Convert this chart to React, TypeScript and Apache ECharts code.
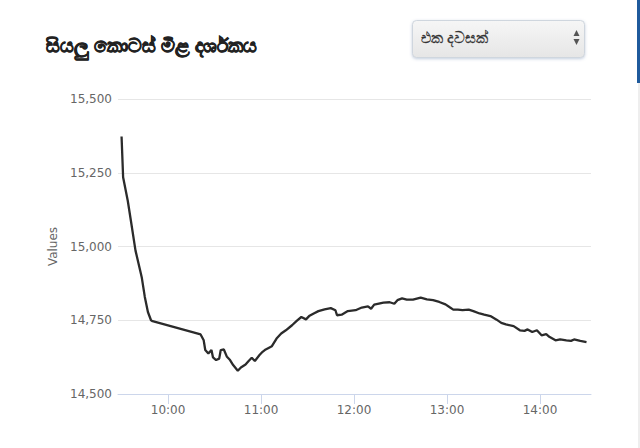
import React, { useEffect, useRef } from "react";
import * as echarts from "echarts";

const titleText = "සියලු කොටස් මිළ දර්ශකය";
const dropdownText = "එක දවසක්";
const yAxisName = "Values";
const hourTicks = ["10:00", "11:00", "12:00", "13:00", "14:00"];
const yTicks = [14500, 14750, 15000, 15250, 15500];

const times = [
  "09:30", "09:31", "09:34", "09:36", "09:39", "09:42", "09:43", "09:45", "09:47", "09:49",
  "09:50", "10:21", "10:23", "10:24", "10:26", "10:28", "10:29", "10:31", "10:33", "10:34",
  "10:36", "10:38", "10:40", "10:42", "10:45", "10:47", "10:50", "10:52", "10:54", "10:56",
  "10:59", "11:01", "11:03", "11:07", "11:10", "11:13", "11:16", "11:20", "11:23", "11:26",
  "11:29", "11:31", "11:34", "11:37", "11:41", "11:45", "11:48", "11:49", "11:52", "11:56",
  "12:01", "12:05", "12:09", "12:11", "12:13", "12:19", "12:23", "12:26", "12:28", "12:31",
  "12:34", "12:38", "12:43", "12:47", "12:51", "12:55", "12:59", "13:02", "13:04", "13:07",
  "13:10", "13:14", "13:17", "13:21", "13:24", "13:28", "13:32", "13:35", "13:38", "13:43",
  "13:47", "13:50", "13:52", "13:55", "13:58", "14:01", "14:04", "14:06", "14:10", "14:13",
  "14:17", "14:20", "14:22", "14:26", "14:30",
];
const values = [
  15373, 15235, 15155, 15088, 14986, 14919, 14896, 14829, 14778, 14750,
  14747, 14702, 14682, 14649, 14637, 14649, 14624, 14615, 14620, 14649,
  14651, 14626, 14615, 14598, 14579, 14590, 14600, 14612, 14623, 14612,
  14632, 14643, 14651, 14662, 14688, 14705, 14716, 14733, 14748, 14761,
  14753, 14764, 14773, 14781, 14787, 14791, 14784, 14767, 14769, 14781,
  14784, 14793, 14797, 14789, 14803, 14810, 14811, 14806, 14818, 14824,
  14820, 14820, 14827, 14821, 14818, 14812, 14804, 14793, 14786, 14786,
  14784, 14786, 14781, 14773, 14769, 14764, 14752, 14741, 14736, 14730,
  14716, 14714, 14719, 14710, 14716, 14699, 14703, 14694, 14682, 14685,
  14682, 14680, 14685, 14680, 14676,
];

const toMin = (s: string) => {
  const [h, m] = s.split(":").map(Number);
  return h * 60 + m;
};
const fmt = (v: number) => {
  const h = Math.floor(v / 60);
  const m = Math.round(v % 60);
  return `${h}:${m < 10 ? "0" + m : m}`;
};

export default function App() {
  const ref = useRef<HTMLDivElement>(null);
  useEffect(() => {
    if (!ref.current) return;
    const chart = echarts.init(ref.current, undefined, { renderer: "svg" });
    const tickVals = hourTicks.map(toMin);
    chart.setOption({
      animation: false,
      backgroundColor: "#ffffff",
      textStyle: { fontFamily: "DejaVu Sans" },
      grid: { left: 118, right: 49, top: 99, bottom: 54, containLabel: false },
      xAxis: {
        type: "value",
        min: toMin("09:27") + 0.7,
        max: toMin("14:32") + 0.9,
        axisLine: { show: true, lineStyle: { color: "#ccd6eb", width: 1 } },
        axisTick: {
          show: true,
          length: 10,
          lineStyle: { color: "#ccd6eb" },
          customValues: tickVals,
        },
        axisLabel: {
          color: "#666666",
          fontSize: 12,
          margin: 10,
          customValues: tickVals,
          formatter: (v: number) => fmt(v),
        },
        splitLine: { show: false },
      },
      yAxis: {
        type: "value",
        min: yTicks[0],
        max: yTicks[yTicks.length - 1],
        interval: 250,
        name: yAxisName,
        nameLocation: "middle",
        nameGap: 59,
        nameTextStyle: { color: "#666666", fontSize: 12 },
        axisLine: { show: false },
        axisTick: { show: false },
        axisLabel: {
          color: "#666666",
          fontSize: 12,
          margin: 6,
          formatter: (v: number) => v.toLocaleString("en-US"),
        },
        splitLine: { lineStyle: { color: "#e6e6e6", width: 1 } },
      },
      series: [
        {
          type: "line",
          data: times.map((t, i) => [toMin(t), values[i]]),
          showSymbol: false,
          symbol: "none",
          lineStyle: { color: "#2b2b2b", width: 2.3 },
        },
      ],
      graphic: [
        {
          type: "text",
          left: 46,
          top: 35,
          style: {
            text: titleText,
            fontSize: 18.6,
            fontWeight: "bold",
            fill: "#222222",
            stroke: "#222222",
            lineWidth: 0.7,
            fontFamily: "Noto Sans, DejaVu Sans",
          },
        },
        {
          type: "rect",
          shape: { x: 412.5, y: 20.5, width: 172, height: 37, r: 4 },
          style: {
            fill: {
              type: "linear",
              x: 0, y: 0, x2: 0, y2: 1,
              colorStops: [
                { offset: 0, color: "#f6f6f6" },
                { offset: 1, color: "#e6e6e6" },
              ],
            },
            stroke: "#cfd6de",
            lineWidth: 1,
            shadowBlur: 3,
            shadowColor: "rgba(80,110,160,0.35)",
            shadowOffsetY: 1,
          },
        },
        {
          type: "text",
          left: 421,
          top: 29,
          style: {
            text: dropdownText,
            fontSize: 15,
            fill: "#333333",
            stroke: "#333333",
            lineWidth: 0.3,
            fontFamily: "Noto Sans, DejaVu Sans",
          },
        },
        {
          type: "polygon",
          shape: { points: [[573.5, 36], [579.5, 36], [576.5, 30]] },
          style: { fill: "#555555" },
        },
        {
          type: "polygon",
          shape: { points: [[573.5, 39], [579.5, 39], [576.5, 45]] },
          style: { fill: "#555555" },
        },
        {
          type: "rect",
          shape: { x: 637, y: 0, width: 3, height: 83 },
          style: { fill: "#1f5a9c" },
        },
        {
          type: "rect",
          shape: { x: 638, y: 83, width: 2, height: 365 },
          style: { fill: "#eeeeee" },
        },
      ],
    });
    return () => chart.dispose();
  }, []);
  return (
    <div
      ref={ref}
      style={{ position: "fixed", left: 0, top: 0, width: 640, height: 448 }}
    />
  );
}
